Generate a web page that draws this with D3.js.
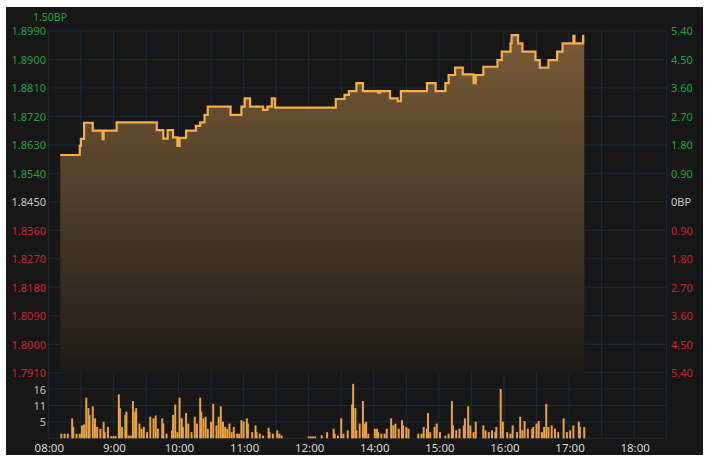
<!DOCTYPE html>
<html><head><meta charset="utf-8">
<script src="https://cdn.jsdelivr.net/npm/d3@7/dist/d3.min.js"></script>
<style>
html,body{margin:0;padding:0;background:#fff;}
svg{display:block;font-family:"Noto Sans","Open Sans",sans-serif;}
</style></head>
<body><svg id="c" width="706" height="463"></svg>
<script>
// ---- data ----
const priceTimes = ["08:11","08:29","08:30","08:33","08:41","08:50","08:51","09:03","09:40","09:46","09:50","09:55","09:59","10:01","10:07","10:16","10:20","10:24","10:27","10:48","10:58","11:01","11:06","11:18","11:22","11:26","11:29","13:25","13:33","13:37","13:44","13:50","14:04","14:06","14:15","14:22","14:25","14:49","14:57","15:06","15:09","15:15","15:22","15:32","15:34","15:41","15:54","15:58","16:06","16:07","16:13","16:17","16:29","16:33","16:41","16:49","16:54","17:04","17:05","17:13","17:14"];
const priceValues = [1.8598,1.8627,1.8649,1.8700,1.8675,1.8648,1.8675,1.8701,1.8677,1.8650,1.8677,1.8654,1.8627,1.8652,1.8675,1.8690,1.8701,1.8725,1.8751,1.8725,1.8751,1.8777,1.8751,1.8741,1.8751,1.8777,1.8748,1.8775,1.8788,1.8800,1.8825,1.8800,1.8795,1.8800,1.8777,1.8768,1.8800,1.8825,1.8800,1.8825,1.8851,1.8874,1.8853,1.8825,1.8851,1.8877,1.8898,1.8925,1.8951,1.8977,1.8951,1.8925,1.8898,1.8874,1.8898,1.8925,1.8951,1.8975,1.8951,1.8975,1.8975];

const volTimes = ["08:12","08:15","08:18","08:22","08:23","08:26","08:29","08:31","08:33","08:35","08:37","08:38","08:41","08:43","08:45","08:48","08:51","08:52","08:55","08:58","09:00","09:02","09:05","09:06","09:08","09:11","09:12","09:14","09:16","09:18","09:20","09:21","09:24","09:26","09:28","09:31","09:34","09:37","09:39","09:41","09:45","09:46","09:49","09:54","09:55","09:57","09:59","10:01","10:03","10:04","10:07","10:09","10:12","10:15","10:17","10:20","10:21","10:23","10:25","10:27","10:30","10:32","10:35","10:37","10:39","10:41","10:43","10:45","10:47","10:49","10:51","10:54","10:56","10:58","11:00","11:03","11:04","11:08","11:11","11:12","11:15","11:18","11:23","11:24","11:27","11:31","11:33","11:35","13:00","13:02","13:04","13:06","13:12","13:17","13:23","13:24","13:27","13:30","13:32","13:36","13:40","13:41","13:43","13:44","13:47","13:50","13:52","13:53","13:55","14:01","14:03","14:04","14:07","14:10","14:12","14:16","14:18","14:20","14:23","14:26","14:27","14:30","14:32","14:41","14:44","14:46","14:49","14:50","14:52","14:56","14:58","15:01","15:06","15:09","15:12","15:13","15:16","15:19","15:23","15:24","15:27","15:29","15:32","15:34","15:41","15:43","15:46","15:49","15:52","15:53","15:57","15:59","16:03","16:06","16:08","16:12","16:15","16:17","16:19","16:22","16:26","16:27","16:30","16:32","16:35","16:37","16:39","16:41","16:44","16:47","16:50","16:55","16:58","17:01","17:04","17:09","17:10","17:14"];
const volValues = [1.5,1.5,1.5,6.5,3.7,1.5,1.5,4.2,4.5,13.2,9.8,7.6,10.4,6.5,3.7,3.1,5.4,2,3.7,0.7,0.7,0.7,14.3,9.8,3.7,7.6,8.7,0.9,0.9,12.1,8.7,9.8,4.8,3.1,3.7,2,7,6.5,7.4,3.1,6.5,4.8,1.5,2.6,7.6,11,2,13.2,6.5,3.7,8.2,4.8,2,7,4.8,13.2,8.7,6.5,7,3.1,5.4,11.2,4.2,7,10.4,5.4,3.7,3.1,4.8,2,3.7,1.5,1.5,5.9,5.4,6.5,4.8,2,4.2,2,1.5,0.9,3.4,2,1.5,2.6,1.5,0.9,0.6,0.6,0.6,0.6,1,2,3.1,1.5,0.9,6.5,1.5,2.6,11,17.7,9.8,2.6,4.8,12.1,4.8,5.4,1.5,3.1,3.1,2,1.5,1.5,3.1,6.5,4.2,4.8,3.1,5.9,4.2,3.7,3.1,1.5,1.5,3.7,3.1,8.2,2,3.7,4.8,2,0.9,1.5,12.1,4.2,2.6,3.1,4.2,6.5,10.4,4.2,2,5.4,4.2,2.6,2,2.6,2,3.7,16,5.4,2,1.5,4.2,2,7,2.6,5.6,3.1,3.1,3.7,4.8,5.6,2,3.7,11.2,3.7,4.2,3.1,2,6.5,2,2.6,4.2,5.4,3.7,3.7];

const priceTicks = [1.8990,1.8900,1.8810,1.8720,1.8630,1.8540,1.8450,1.8360,1.8270,1.8180,1.8090,1.8000,1.7910];
const bpTickLabels = ["5.40","4.50","3.60","2.70","1.80","0.90","0BP","0.90","1.80","2.70","3.60","4.50","5.40"];
const xTickTimes = ["08:00","09:00","10:00","11:00","12:00","14:00","15:00","16:00","17:00","18:00"];
const xTickLabels = ["08:00","9:00","10:00","11:00","12:00","14:00","15:00","16:00","17:00","18:00"];
const volMax = 64/3;
const volTickValues = [volMax/4, volMax/2, volMax*3/4]; // shown as 5, 11, 16
const prevClose = 1.8450;
const headLabel = "1.50BP";

// ---- layout ----
const L = 48.3, R = 666.7, T = 31, PB = 372.7, VB = 438.3;
const svg = d3.select("#c");
svg.append("rect").attr("x",6).attr("y",7).attr("width",697).attr("height",448).attr("fill","#171717");

function sess(t){ const [h,m]=t.split(":").map(Number); let mm=(h-8)*60+m; if(mm>=300) mm-=60; else if(mm>240) mm=240; return mm; }
const x = d3.scaleLinear().domain([0,570]).range([L,R]);
const y = d3.scaleLinear().domain([1.7910,1.8990]).range([PB,T]);
const yv = d3.scaleLinear().domain([0,volMax]).range([VB,PB]);

const grid = svg.append("g").attr("stroke","#1b2b3a").attr("stroke-width",1).attr("fill","none");
grid.selectAll(".hp").data(priceTicks).join("line").attr("x1",L).attr("x2",R).attr("y1",d=>y(d)).attr("y2",d=>y(d));
grid.selectAll(".hv").data(volTickValues.concat([0])).join("line").attr("class","hv").attr("x1",L).attr("x2",R).attr("y1",d=>yv(d)).attr("y2",d=>yv(d));
grid.selectAll(".vv").data(d3.range(0,571,30)).join("line").attr("class","vv").attr("x1",d=>x(d)).attr("x2",d=>x(d)).attr("y1",T).attr("y2",VB);

// gradient
const defs = svg.append("defs");
const g = defs.append("linearGradient").attr("id","ag").attr("gradientUnits","userSpaceOnUse").attr("x1",0).attr("x2",0).attr("y1",T).attr("y2",PB);
g.append("stop").attr("offset",0).attr("stop-color","#7a5c36");
g.append("stop").attr("offset",0.5).attr("stop-color","#4d3d29");
g.append("stop").attr("offset",1).attr("stop-color","#1c1a17");

const pts = priceTimes.map((t,i)=>({s:sess(t),v:priceValues[i]}));
svg.append("path").datum(pts).attr("fill","url(#ag)")
  .attr("d", d3.area().curve(d3.curveStepAfter).x(d=>x(d.s)).y0(PB).y1(d=>y(d.v)));
svg.append("path").datum(pts).attr("fill","none").attr("stroke","#f3b046").attr("stroke-width",2.2)
  .attr("d", d3.line().curve(d3.curveStepAfter).x(d=>x(d.s)).y(d=>y(d.v)));

// volume
svg.append("g").selectAll("rect").data(volTimes.map((t,i)=>({s:sess(t),v:volValues[i]}))).join("rect")
  .attr("x",d=>x(d.s)-1).attr("width",2).attr("y",d=>yv(d.v)).attr("height",d=>VB-yv(d.v)).attr("fill","#e8a33c");

// left axis labels
const fs = 11;
const col = d => Math.abs(d-prevClose)<1e-9?"#c8c8c8":(d>prevClose?"#1fa33f":"#cf2230");
svg.append("g").selectAll("text").data(priceTicks).join("text")
  .attr("x",46).attr("y",d=>y(d)+1.5).attr("text-anchor","end").attr("dominant-baseline","middle")
  .attr("font-size",fs).attr("fill",col)
  .text(d=>d3.format(".4f")(d));
svg.append("g").selectAll("text").data(priceTicks).join("text")
  .attr("x",671).attr("y",(d)=>y(d)+1.5).attr("dominant-baseline","middle")
  .attr("font-size",fs).attr("fill",col)
  .text((d,i)=>bpTickLabels[i]);
svg.append("text").attr("x",67).attr("y",18).attr("text-anchor","end").attr("dominant-baseline","middle")
  .attr("font-size",10.5).attr("fill","#1fa33f").text(headLabel);
svg.append("g").selectAll("text").data(volTickValues).join("text")
  .attr("x",46).attr("y",d=>yv(d)+1.5).attr("text-anchor","end").attr("dominant-baseline","middle")
  .attr("font-size",fs).attr("fill","#c0c0c0").text(d=>d3.format(".0f")(d));
// x axis labels
svg.append("g").selectAll("text").data(xTickTimes).join("text")
  .attr("x",d=>x(sess(d))+1).attr("y",449).attr("text-anchor","middle").attr("dominant-baseline","middle")
  .attr("font-size",fs+0.5).attr("fill","#d6d6d6").text((d,i)=>xTickLabels[i]);
</script></body></html>
